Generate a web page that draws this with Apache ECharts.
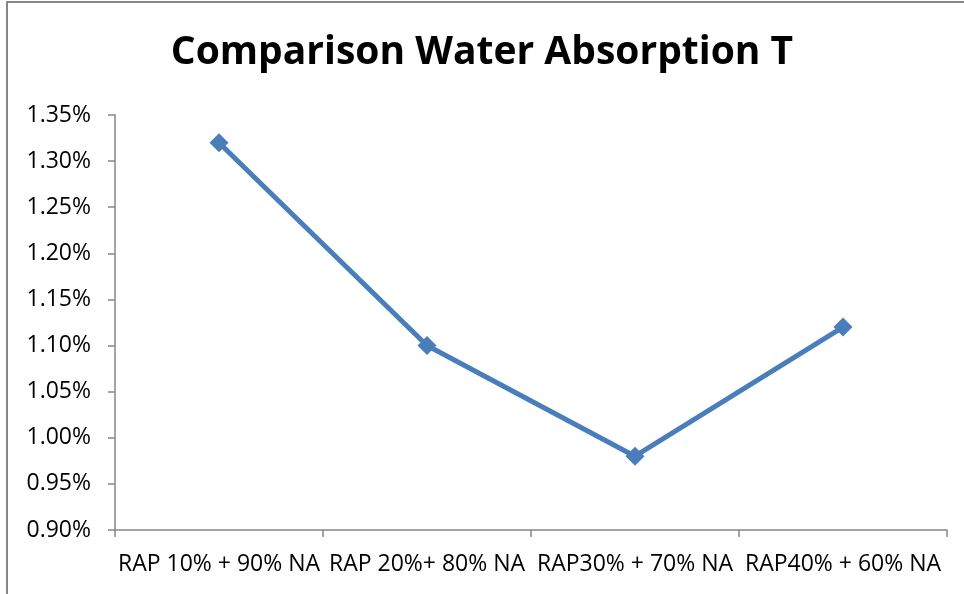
<!DOCTYPE html>
<html>
<head>
<meta charset="utf-8">
<script src="https://cdn.jsdelivr.net/npm/echarts@6/dist/echarts.min.js"></script>
<style>
  html, body { margin: 0; padding: 0; background: #fff; }
  #chart { width: 964px; height: 594px; }
</style>
</head>
<body>
<div id="chart"></div>
<script>
// Mix designs (RAP = reclaimed asphalt pavement, NA = natural aggregate)
const categories = ['RAP 10% + 90% NA', 'RAP 20%+ 80% NA', 'RAP30% + 70% NA', 'RAP40% + 60% NA'];
// Water absorption, in percent
const absorption = [1.32, 1.10, 0.98, 1.12];
const titleText = 'Comparison Water Absorption T';

const fontFamily = '"Open Sans", Lato, sans-serif';
const axisColor = '#868686';

const chart = echarts.init(document.getElementById('chart'), null, { renderer: 'canvas' });
chart.setOption({
  animation: false,
  backgroundColor: '#ffffff',
  title: {
    text: titleText,
    left: 'center',
    top: 28,
    textStyle: { fontFamily: fontFamily, fontWeight: 'bold', fontSize: 39, color: '#000' }
  },
  graphic: [{
    type: 'rect',
    shape: { x: 7, y: 2, width: 1000, height: 1000 },
    style: { fill: 'none', stroke: '#878787', lineWidth: 2 },
    silent: true
  }],
  grid: { left: 115, right: 17, top: 115, bottom: 64 },
  xAxis: {
    type: 'category',
    data: categories,
    boundaryGap: true,
    axisLine: { lineStyle: { color: axisColor, width: 1.5 } },
    axisTick: { show: true, length: 7, alignWithLabel: false, lineStyle: { color: axisColor, width: 1.5 } },
    axisLabel: { color: '#000', fontFamily: fontFamily, fontSize: 23, margin: 23, interval: 0 },
    splitLine: { show: false }
  },
  yAxis: {
    type: 'value',
    min: 0.90,
    max: 1.35,
    interval: 0.05,
    axisLine: { show: true, lineStyle: { color: axisColor, width: 1.5 } },
    axisTick: { show: true, length: 7, lineStyle: { color: axisColor, width: 1.5 } },
    axisLabel: {
      color: '#000', fontFamily: fontFamily, fontSize: 23, margin: 24,
      formatter: v => v.toFixed(2) + '%'
    },
    splitLine: { show: false }
  },
  series: [{
    type: 'line',
    data: absorption,
    symbol: 'diamond',
    symbolSize: 19,
    lineStyle: { color: '#4A7EBB', width: 5 },
    itemStyle: { color: '#4A7EBB' }
  }]
});
</script>
</body>
</html>
